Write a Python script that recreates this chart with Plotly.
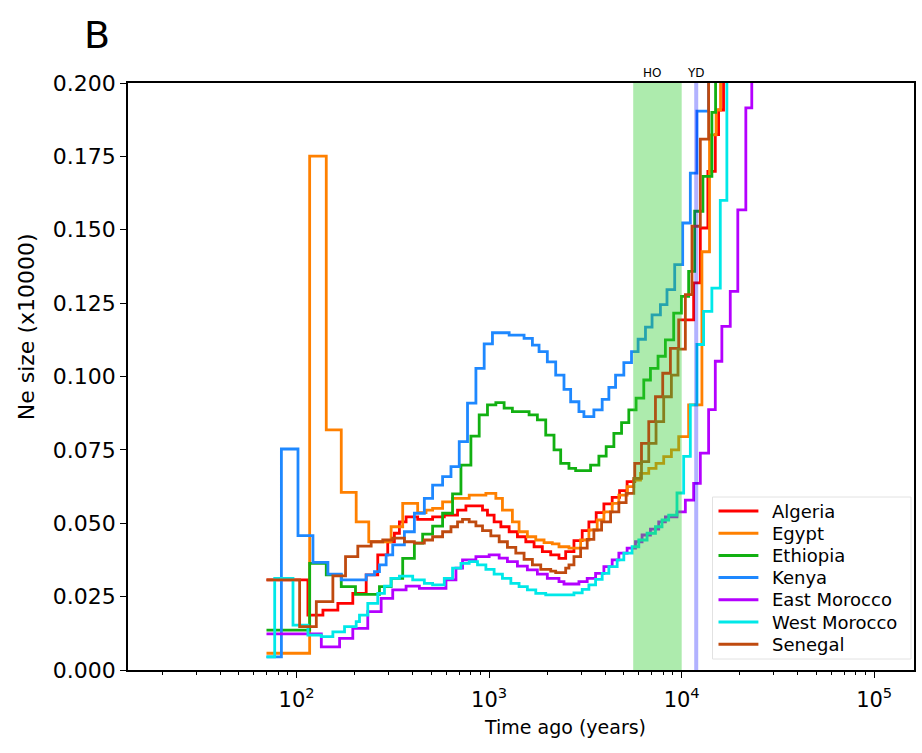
import math
import plotly.graph_objects as go

populations = ["Algeria", "Egypt", "Ethiopia", "Kenya", "East Morocco", "West Morocco", "Senegal"]
colors = ["#ff0000", "#ff8000", "#12b012", "#1e88ff", "#b400ff", "#00e8e8", "#bf4a0f"]

# step start times (years ago) and Ne (x10000) for each population
algeria_t = [69.7, 114.4, 136.9, 163.7, 195.7, 229.7, 263.8, 297.2, 321.9, 341.8, 370.2, 425.2, 508.4, 584.5, 685.1,
             757.2, 923.3, 979.9, 1061, 1150, 1270, 1402, 1550, 1711, 1889, 2088, 2305, 2497, 2757, 3043, 3296, 3597,
             3944, 4355, 4757, 5207, 5707, 6183, 6745, 7307, 7971, 8738, 9649, 11540, 12500, 13680, 14950, 15550, 16500]
algeria_ne = [0.0307, 0.0187, 0.0204, 0.0227, 0.0261, 0.0324, 0.0392, 0.0437, 0.0466, 0.0505, 0.0522, 0.0513, 0.0522,
              0.0528, 0.0545, 0.0559, 0.0545, 0.0528, 0.0505, 0.0488, 0.0471, 0.0454, 0.0437, 0.0420, 0.0403, 0.0392,
              0.0380, 0.0403, 0.0441, 0.0475, 0.0505, 0.0536, 0.0566, 0.0588, 0.0611, 0.0642, 0.0704, 0.0772, 0.0846,
              0.0931, 0.1011, 0.1096, 0.1193, 0.1319, 0.1506, 0.1699, 0.1824, 0.1908, 0.3]

egypt_t = [69.7, 116.8, 142.5, 170.5, 203.8, 236.9, 309.5, 355.5, 425.2, 469.9, 508.4, 572.8, 645.4, 787.6, 961.4, 1083,
           1172, 1320, 1430, 1579, 1746, 1928, 2128, 2305, 2597, 2986, 3296, 3640, 3944, 4355, 4717, 5207, 5640, 6110,
           6745, 7359, 8065, 8842, 9649, 10870, 12740, 13950, 15100, 15920]
egypt_ne = [0.0057, 0.1751, 0.0818, 0.0605, 0.0505, 0.0437, 0.0488, 0.0568, 0.0536, 0.0545, 0.0551, 0.0573, 0.0585,
            0.0596, 0.0602, 0.0585, 0.0545, 0.0505, 0.0471, 0.0454, 0.0443, 0.0434, 0.0430, 0.0420, 0.0415, 0.0443,
            0.0477, 0.0511, 0.0539, 0.0568, 0.0596, 0.0625, 0.0647, 0.0670, 0.0687, 0.0704, 0.0727, 0.0750, 0.0795,
            0.0903, 0.1425, 0.1823, 0.1908, 0.3]

ethiopia_t = [69.7, 116.8, 142.5, 170.5, 202.1, 269.2, 309.5, 355.5, 408.8, 451.3, 508.4, 572.8, 645.4, 713.4, 803.7,
              887.6, 979.9, 1083, 1196, 1320, 1612, 1780, 1967, 2172, 2352, 2597, 2813, 3364, 3715, 4053, 4444, 4872,
              5314, 5797, 6355, 6883, 7537, 8230, 9088, 9964, 10870, 11680, 12890, 14350, 15000]
ethiopia_ne = [0.0136, 0.0363, 0.0324, 0.0284, 0.0258, 0.0284, 0.0312, 0.0380, 0.0432, 0.0463, 0.0490, 0.0534, 0.0600,
               0.0698, 0.0797, 0.0869, 0.0903, 0.0911, 0.0892, 0.0880, 0.0869, 0.0852, 0.0800, 0.0750, 0.0704, 0.0687,
               0.0679, 0.0698, 0.0729, 0.0761, 0.0806, 0.0843, 0.0886, 0.0926, 0.0988, 0.1028, 0.1069, 0.1125, 0.1216,
               0.1273, 0.1358, 0.1563, 0.1682, 0.1900, 0.3]

kenya_t = [69.7, 83.3, 101.6, 121.5, 145.3, 170.5, 229.7, 253.6, 269.2, 291.6, 315.5, 362.8, 408.8, 460.5, 508.4, 572.8,
           633.3, 699.1, 771.8, 853.3, 942.1, 1040, 1270, 1518, 1677, 1816, 2005, 2216, 2447, 2650, 2926, 3106, 3499,
           3864, 4186, 4535, 5006, 5488, 5938, 6485, 7016, 7755, 8389, 9198, 10120, 11090, 12000, 13800]
kenya_ne = [0.0045, 0.0753, 0.0458, 0.0367, 0.0327, 0.0307, 0.0324, 0.0335, 0.0358, 0.0392, 0.0426, 0.0471, 0.0534,
            0.0585, 0.0630, 0.0659, 0.0693, 0.0778, 0.0909, 0.1028, 0.1111, 0.1149, 0.1141, 0.1130, 0.1107, 0.1085,
            0.1050, 0.1005, 0.0956, 0.0914, 0.0880, 0.0863, 0.0886, 0.0922, 0.0963, 0.1005, 0.1047, 0.1085, 0.1127,
            0.1168, 0.1210, 0.1245, 0.1296, 0.1381, 0.1523, 0.1693, 0.1904, 0.3]

east_morocco_t = [69.7, 134.3, 167.1, 195.7, 234.1, 274.7, 315.5, 370.2, 433.9, 596.5, 672.1, 727.1, 853.3, 1000, 1127,
                  1244, 1402, 1579, 1780, 2005, 2305, 2447, 2926, 3230, 3571, 3944, 4355, 4717, 5207, 5755, 6227, 6883,
                  7599, 8230, 9454, 10450, 11540, 12500, 13800, 14950, 16170, 17880, 19570, 21540, 23130]
east_morocco_ne = [0.0123, 0.0079, 0.0108, 0.0142, 0.0199, 0.0244, 0.0273, 0.0286, 0.0278, 0.0307, 0.0347, 0.0375,
                   0.0386, 0.0392, 0.0381, 0.0369, 0.0354, 0.0341, 0.0327, 0.0312, 0.0301, 0.0293, 0.0301, 0.0312,
                   0.0329, 0.0352, 0.0375, 0.0398, 0.0415, 0.0437, 0.0460, 0.0480, 0.0505, 0.0522, 0.0539, 0.0579,
                   0.0636, 0.0739, 0.0887, 0.1052, 0.1171, 0.1290, 0.1568, 0.1915, 0.3]

west_morocco_t = [69.7, 76.9, 95.7, 114.4, 134.3, 154.2, 177.3, 203.8, 212, 234.1, 263.8, 285.8, 309.5, 341.8, 400.6,
                  460.5, 508.4, 584.5, 645.4, 713.4, 787.6, 869.8, 961.4, 1061, 1172, 1296, 1430, 1579, 1746, 1967,
                  2757, 3043, 3296, 3571, 3864, 4186, 4623, 5006, 5527, 5987, 6610, 7307, 7904, 8561, 9454, 10240,
                  11090, 12000, 13000, 14350, 15870, 17170]
west_morocco_ne = [0.0045, 0.0312, 0.0153, 0.0119, 0.0114, 0.0130, 0.0148, 0.0165, 0.0187, 0.0227, 0.0261, 0.0286,
                   0.0312, 0.0320, 0.0307, 0.0295, 0.0290, 0.0312, 0.0347, 0.0363, 0.0369, 0.0358, 0.0343, 0.0327,
                   0.0312, 0.0295, 0.0284, 0.0273, 0.0261, 0.0256, 0.0263, 0.0275, 0.0290, 0.0309, 0.0329, 0.0352,
                   0.0375, 0.0398, 0.0420, 0.0443, 0.0466, 0.0488, 0.0511, 0.0528, 0.0603, 0.0728, 0.0903, 0.1109,
                   0.1222, 0.1301, 0.1600, 0.3]

senegal_t = [69.7, 103.6, 126.5, 154.2, 179.4, 207.8, 243.8, 280.1, 315.5, 362.8, 408.8, 460.5, 508.4, 572.8, 633.3,
             685.1, 727.1, 787.6, 853.3, 923.3, 1020, 1127, 1244, 1375, 1518, 1677, 1853, 2088, 2216, 2497, 2597, 2757,
             2986, 3230, 3499, 3837, 4272, 4717, 5146, 5640, 6183, 6745, 7359, 8065, 8842, 9568, 10450, 11310, 12500,
             13800]
senegal_ne = [0.0307, 0.0148, 0.0233, 0.0321, 0.0386, 0.0422, 0.0437, 0.0443, 0.0449, 0.0437, 0.0432, 0.0443, 0.0454,
              0.0471, 0.0488, 0.0505, 0.0513, 0.0505, 0.0491, 0.0475, 0.0457, 0.0437, 0.0418, 0.0398, 0.0377, 0.0358,
              0.0343, 0.0337, 0.0332, 0.0347, 0.0358, 0.0386, 0.0415, 0.0445, 0.0477, 0.0505, 0.0539, 0.0570, 0.0602,
              0.0653, 0.0710, 0.0772, 0.0846, 0.0931, 0.1005, 0.1093, 0.1279, 0.1512, 0.1809, 0.3]

series_t = [algeria_t, egypt_t, ethiopia_t, kenya_t, east_morocco_t, west_morocco_t, senegal_t]
series_ne = [algeria_ne, egypt_ne, ethiopia_ne, kenya_ne, east_morocco_ne, west_morocco_ne, senegal_ne]

# shaded periods
ho_start, ho_end = 5600, 10000
yd_time = 11900
ho_label_time = 7000

x_tickvals = [100, 1000, 10000, 100000]
x_ticktext = ["10<sup>2</sup>", "10<sup>3</sup>", "10<sup>4</sup>", "10<sup>5</sup>"]
y_tickvals = [0.0, 0.025, 0.05, 0.075, 0.1, 0.125, 0.15, 0.175, 0.2]
y_ticktext = ["0.000", "0.025", "0.050", "0.075", "0.100", "0.125", "0.150", "0.175", "0.200"]
minor_vals = [m * 10 ** e for e in range(1, 6) for m in range(2, 10)]

# layout geometry (pixels) -> paper coordinates
W, H = 922, 753
ML, MR, MT, MB = 128, 6, 83, 83
PW, PH = W - ML - MR, H - MT - MB


def px(xp):
    return (xp - ML) / PW


def py(yp):
    return (H - MB - yp) / PH


fig = go.Figure()
for name, col, t, ne in zip(populations, colors, series_t, series_ne):
    fig.add_trace(go.Scatter(x=t, y=ne, mode="lines", name=name, showlegend=False,
                             line=dict(color=col, width=2.8, shape="hv")))

fig.add_vrect(x0=ho_start, x1=ho_end, fillcolor="rgb(50,205,50)", opacity=0.4,
              line_width=0, layer="above")
fig.add_vline(x=yd_time, line=dict(color="rgba(0,0,255,0.3)", width=4), layer="above")

fig.add_annotation(x=math.log10(ho_label_time), y=1.0, xref="x", yref="paper", text="HO", showarrow=False,
                   yanchor="bottom", yshift=1, font=dict(size=12, color="black"))
fig.add_annotation(x=math.log10(yd_time), y=1.0, xref="x", yref="paper", text="YD", showarrow=False,
                   yanchor="bottom", yshift=1, font=dict(size=12, color="black"))
fig.add_annotation(x=px(97), y=py(35), xref="paper", yref="paper", text="B", showarrow=False,
                   xanchor="center", yanchor="middle", font=dict(size=38, color="black"))

# axis titles
fig.add_annotation(x=px(566), y=py(727), xref="paper", yref="paper", text="Time ago (years)",
                   showarrow=False, xanchor="center", yanchor="middle", font=dict(size=19, color="black"))
fig.add_annotation(x=px(26), y=py(327), xref="paper", yref="paper", text="Ne size (x10000)",
                   showarrow=False, textangle=-90, xanchor="center", yanchor="middle",
                   font=dict(size=22, color="black"))

# legend (drawn as box, line samples and labels)
fig.add_shape(type="rect", xref="paper", yref="paper", x0=px(714), x1=px(913), y0=py(659), y1=py(497),
              fillcolor="rgba(255,255,255,0.9)", line=dict(color="#e2e2e2", width=1), layer="above")
for i, (name, col) in enumerate(zip(populations, colors)):
    yc = 511 + 22.2 * i
    fig.add_shape(type="line", xref="paper", yref="paper", x0=px(720), x1=px(760), y0=py(yc), y1=py(yc),
                  line=dict(color=col, width=3), layer="above")
    fig.add_annotation(x=px(772), y=py(yc), xref="paper", yref="paper", text=name, showarrow=False,
                       xanchor="left", yanchor="middle", font=dict(size=18, color="black"))

fig.update_layout(
    width=W, height=H,
    margin=dict(l=ML, r=MR, t=MT, b=MB),
    plot_bgcolor="white", paper_bgcolor="white",
    font=dict(family="DejaVu Sans", color="black"),
    showlegend=False,
)
fig.update_xaxes(type="log", range=[math.log10(13.3), math.log10(161000)],
                 showline=True, linecolor="black", linewidth=1.5, mirror=True,
                 ticks="outside", ticklen=6, tickwidth=1.2, tickcolor="black",
                 tickmode="array", tickvals=x_tickvals, ticktext=x_ticktext,
                 tickfont=dict(size=21), ticklabelstandoff=4,
                 minor=dict(ticks="outside", ticklen=3.5, tickwidth=1, tickcolor="black",
                            tickmode="array", tickvals=minor_vals, showgrid=False),
                 showgrid=False, zeroline=False)
fig.update_yaxes(range=[0, 0.2], showline=True, linecolor="black", linewidth=1.5, mirror=True,
                 ticks="outside", ticklen=6, tickwidth=1.2, tickcolor="black",
                 tickmode="array", tickvals=y_tickvals, ticktext=y_ticktext,
                 tickfont=dict(size=22), showgrid=False, zeroline=False)

fig.write_html("out.html")
